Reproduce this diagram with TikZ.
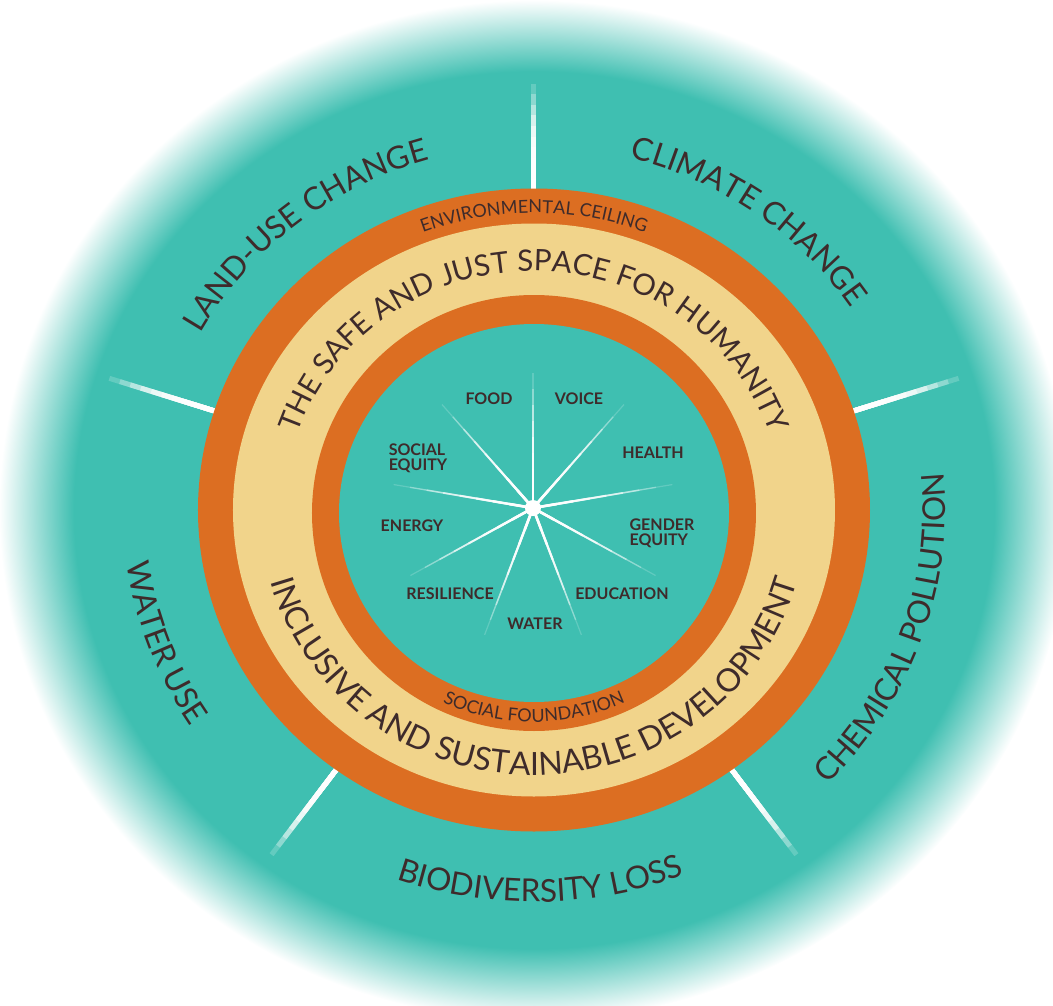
\documentclass[tikz,border=0pt]{standalone}
\usepackage{fontspec}
\setmainfont{Lato}
\usetikzlibrary{decorations.text}

\definecolor{donutteal}{HTML}{3FBFB1}
\definecolor{donutorange}{HTML}{DC6E22}
\definecolor{donutsand}{HTML}{F1D48B}
\definecolor{inkbrown}{HTML}{3E2B2B}

\pgfdeclareradialshading{tealglow}{\pgfpoint{0bp}{0bp}}{color(0bp)=(donutteal); color(21.5bp)=(donutteal); color(25bp)=(white); color(50bp)=(white)}

\newcommand\boundfont{\fontsize{31.5}{36}\selectfont}
\newcommand\bandfont{\fontsize{29.5}{34}\selectfont}
\newcommand\lowbandfont{\fontsize{32}{36}\selectfont}
\newcommand\limitfont{\fontsize{18}{20}\selectfont}
\newcommand\needfont{\fontsize{16}{15}\selectfont\bfseries}

\tikzset{
  ringtext/.style={decorate, decoration={text along path, text align=center, text color=inkbrown, text={#1}}},
  needlabel/.style={inner sep=0pt, align=left, text=inkbrown, font=\needfont},
  divider/.style={white, line width=5pt},
  spoke/.style={white},
}

\begin{document}
\begin{tikzpicture}[x=1pt,y=1pt]
    \useasboundingbox (-534,-495) rectangle (519,510);

    % planetary boundaries disk
    \shade[shading=tealglow] (0,0) ellipse [x radius=535, y radius=510];

    \foreach \a in {90,18,-54,-126,162}
      \foreach \i [evaluate=\i as \ra using 321+10.5*\i, evaluate=\i as \rb using 331.5+10.5*\i, evaluate=\i as \op using 1-0.09*\i] in {0,...,9}
        \draw[divider, draw opacity=\op] ({1.048*\ra*cos(\a)},{\ra*sin(\a)}) -- ({1.048*\rb*cos(\a)},{\rb*sin(\a)});

    % rings
    \fill[donutorange] (0,0) ellipse [x radius=336, y radius=321.5];
    \fill[donutsand] (0,0) ellipse [x radius=301, y radius=286.5];
    \fill[donutorange] (0,-3) ellipse [x radius=222, y radius=218];
    \fill[donutteal] (0,-3) ellipse [x radius=195, y radius=189];

    % spokes
    \foreach \a in {90,50,10,-30,-70,-110,-150,-190,-230}
      \foreach \i [evaluate=\i as \ra using 7+16*\i, evaluate=\i as \rb using 23+16*\i, evaluate=\i as \op using 0.95-0.11*\i, evaluate=\i as \lw using 2.6-0.2*\i] in {0,...,7}
        \draw[spoke, line width=\lw pt, draw opacity=\op] ({-1+1.048*\ra*cos(\a)},{2+\ra*sin(\a)}) -- ({-1+1.048*\rb*cos(\a)},{2+\rb*sin(\a)});

    \node[circle, fill=white, minimum size=16pt, inner sep=0pt] (hub) at (-1,2) {};

    % social needs
    \node[needlabel] (food) at (-45,111) {FOOD};
    \node[needlabel] (voice) at (45,111) {VOICE};
    \node[needlabel] (health) at (119,57) {HEALTH};
    \node[needlabel] (gender) at (128,-23) {GENDER\\EQUITY};
    \node[needlabel] (education) at (88,-84) {EDUCATION};
    \node[needlabel] (water) at (1,-114) {WATER};
    \node[needlabel] (resilience) at (-84,-84) {RESILIENCE};
    \node[needlabel] (energy) at (-122,-16) {ENERGY};
    \node[needlabel] (equity) at (-116,52) {SOCIAL\\EQUITY};

    % ring texts
    \path[ringtext={|\limitfont|ENVIRONMENTAL CEILING}] (150:311 and 297) arc[start angle=150, end angle=30, x radius=311, y radius=297];
    \path[ringtext={|\limitfont|SOCIAL FOUNDATION}] (0,-3) ++(215:216 and 209) arc[start angle=215, end angle=325, x radius=216, y radius=209];
    \path[ringtext={|\bandfont|THE SAFE AND JUST SPACE FOR HUMANITY}] (178:249 and 239) arc[start angle=178, end angle=2, x radius=249, y radius=239];
    \path[ringtext={|\lowbandfont|INCLUSIVE AND SUSTAINABLE DEVELOPMENT}] (182:273.5 and 265) arc[start angle=182, end angle=358, x radius=273.5, y radius=265];

    % boundaries
    \path[ringtext={|\boundfont|LAND-USE CHANGE}] (179:381 and 364) arc[start angle=179, end angle=79, x radius=381, y radius=364];
    \path[ringtext={|\boundfont|CLIMATE CHANGE}] (104:381 and 364) arc[start angle=104, end angle=4, x radius=381, y radius=364];
    \path[ringtext={|\boundfont|CHEMICAL POLLUTION}] (-79:411 and 392) arc[start angle=-79, end angle=41, x radius=411, y radius=392];
    \path[ringtext={|\boundfont|BIODIVERSITY LOSS}] (-149:411 and 392) arc[start angle=-149, end angle=-29, x radius=411, y radius=392];
    \path[ringtext={|\boundfont|WATER USE}] (140:411 and 392) arc[start angle=140, end angle=260, x radius=411, y radius=392];

\end{tikzpicture}
\end{document}
